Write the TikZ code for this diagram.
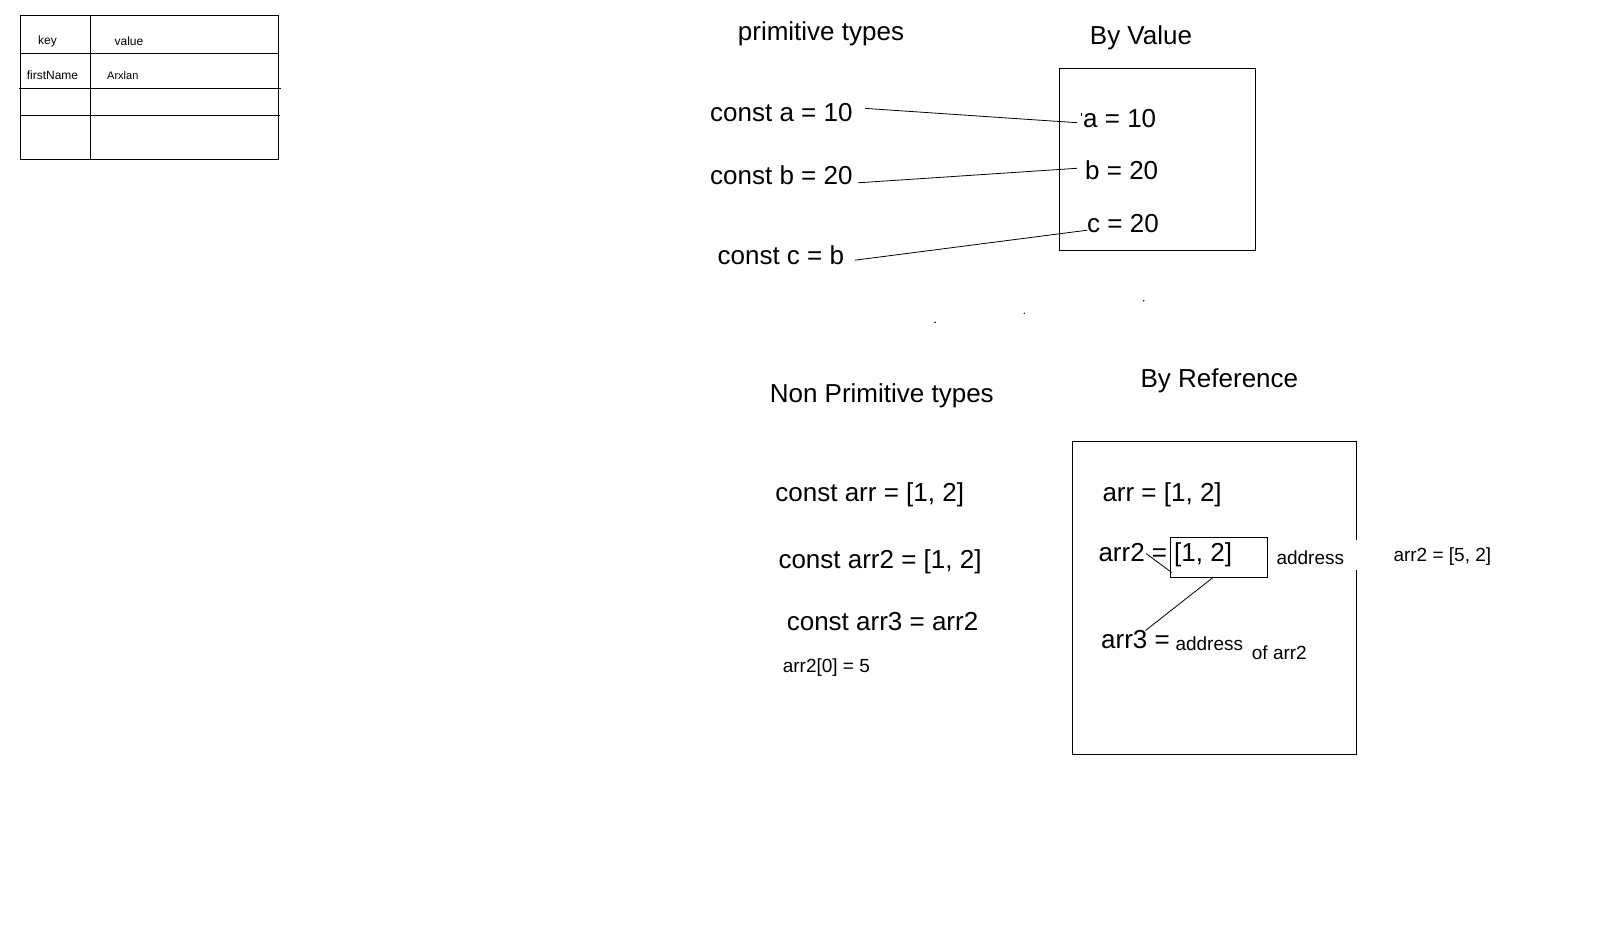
\documentclass[tikz,border=0pt]{standalone}
\usepackage{fontspec}
\setmainfont{Liberation Sans}
\begin{document}
\begin{tikzpicture}[x=1pt,y=-1pt,
  big/.style={inner sep=0pt,anchor=west,yshift=-2.5pt,font=\fontsize{26}{30}\selectfont},
  small/.style={inner sep=0pt,anchor=west,yshift=-3pt,font=\fontsize{19}{23}\selectfont},
  tiny/.style={inner sep=0pt,yshift=-1.5pt,font=\fontsize{12}{14}\selectfont},
  box/.style={draw,line width=1pt},
  link/.style={line width=0.8pt}]
\useasboundingbox[fill=white] (0,0) rectangle (1619,947);
% table
\draw[box] (20.3,15.3) rectangle (278.7,159);
\draw[box] (90.3,15.3) -- (90.3,159);
\draw[box] (20.3,53.3) -- (278.7,53.3);
\draw[box] (19.3,88.3) -- (280.7,88.3);
\draw[box] (20.3,115.3) -- (280.3,115.3);
\node[tiny] (tk) at (47.5,39.5) {key};
\node[tiny] (tv) at (129,39.5) {value};
\node[tiny] (tf) at (52.5,73.5) {firstName};
\node[tiny,anchor=west,font=\fontsize{11}{13}\selectfont] (tn) at (107,74) {Arxlan};
% primitive
\node[big,anchor=center] (pt) at (821,31) {primitive types};
\node[big,anchor=center] (bv) at (1141,35.5) {By Value};
\draw[box] (1059.6,69) rectangle (1255.5,250.3);
\node[big] (ca) at (710,110) {const a = 10};
\node[big] (cb) at (710,172.5) {const b = 20};
\node[big] (cc) at (717.4,253) {const c = b};
\node[big] (va) at (1083,115.7) {a = 10};
\node[big] (vb) at (1085,167.4) {b = 20};
\node[big] (vc) at (1087,221.5) {c = 20};
\coordinate (a1) at (865.2,108.4);
\coordinate (a2) at (1077,122.7);
\coordinate (b1) at (858,182.8);
\coordinate (b2) at (1076.9,168.3);
\coordinate (c1) at (854.9,260.2);
\coordinate (c2) at (1087.2,230.2);
\draw[link] (a1) -- (a2);
\draw[link] (b1) -- (b2);
\draw[link] (c1) -- (c2);
\draw[line width=0.8pt] (1081.3,112.7) -- (1081.3,116.3);
% specks
\fill (935,322.3) circle (0.9);
\fill (1024.3,313.3) circle (0.8);
\fill (1143.7,300.7) circle (0.8);
% non primitive
\node[big,anchor=center] (np) at (881.8,393.4) {Non Primitive types};
\node[big,anchor=center] (br) at (1219.4,378) {By Reference};
\draw[box] (1356.3,540) -- (1356.3,441.3) -- (1072.3,441.3) -- (1072.3,754) -- (1356.3,754) -- (1356.3,570);
\node[big] (n1) at (775.2,492.5) {const arr = [1, 2]};
\node[big] (n2) at (778.3,559.6) {const arr2 = [1, 2]};
\node[big] (n3) at (786.6,619.5) {const arr3 = arr2};
\node[small] (n4) at (782.6,665) {arr2[0] = 5};
\node[big] (r1) at (1102.3,492.3) {arr = [1, 2]};
\node[big] (r2) at (1098.3,549.7) {arr2 =};
\node[draw,line width=1pt,minimum width=96.7pt,minimum height=40.6pt,anchor=north west,inner sep=0pt] (rb) at (1170,536.7) {};
\node[big] (r2v) at (1174,552) {[1, 2]};
\node[small] (ad1) at (1276.3,554.7) {address};
\node[small] (r5) at (1393.3,554) {arr2 = [5, 2]};
\node[big] (r3) at (1101,637) {arr3 =};
\node[small] (ad2) at (1175.3,641) {address};
\node[small] (of) at (1251.7,650) {of arr2};
\coordinate (l1a) at (1146,553.5);
\coordinate (l1b) at (1171.7,572.5);
\coordinate (l2a) at (1213,577.5);
\coordinate (l2b) at (1145.5,630.5);
\draw[link] (l1a) -- (l1b);
\draw[link] (l2a) -- (l2b);
\end{tikzpicture}
\end{document}
